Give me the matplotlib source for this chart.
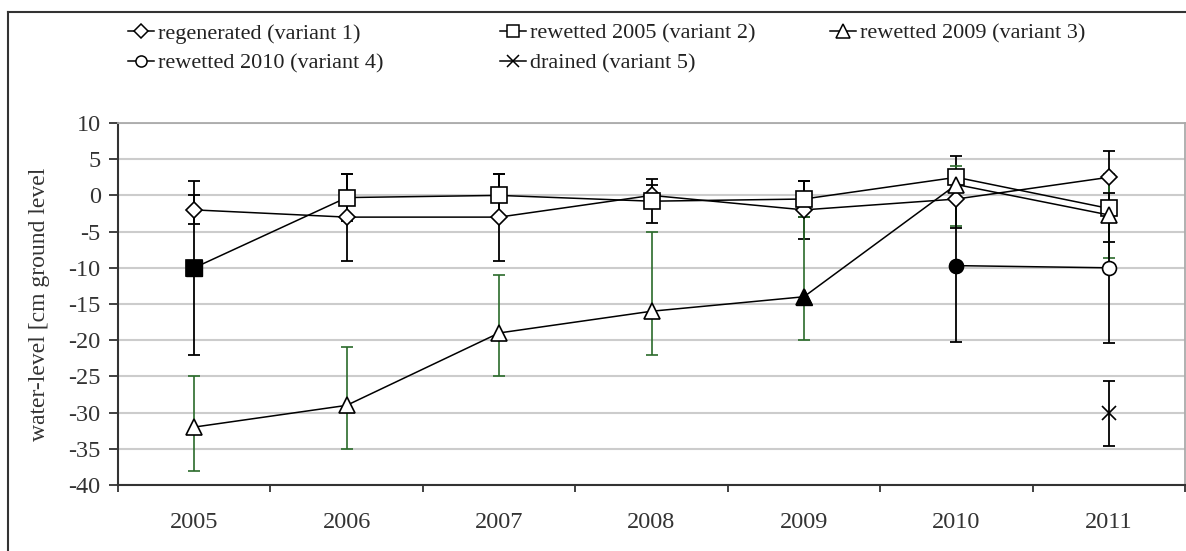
import numpy as np
import matplotlib.pyplot as plt
from matplotlib.lines import Line2D

plt.rcParams['font.family'] = ['Liberation Serif', 'DejaVu Serif']
plt.rcParams['axes.unicode_minus'] = False

# --- data ---
years = ["2005", "2006", "2007", "2008", "2009", "2010", "2011"]

# variant 1: regenerated
regen = [-2, -3, -3, 0, -2, -0.5, 2.5]
regen_err = [2, 6, 6, 1.5, 4, 4, 3.7]

# variant 2: rewetted 2005
rw05 = [-10, -0.3, 0, -0.8, -0.5, 2.5, -1.8]
rw05_err = [12, 3.3, 3, 3, 2.5, 3, 4.6]

# variant 3: rewetted 2009 (bars not symmetric)
rw09 = [-32, -29, -19, -16, -14, 1.5, -2.7]
rw09_low = [-38, -35, -25, -22, -20, -4.2, -8.7]
rw09_high = [-25, -21, -11, -5, -3, 4, 3]

# variant 4: rewetted 2010
rw10_years = ["2010", "2011"]
rw10 = [-9.7, -10]
rw10_err = [10.6, 10.4]

# variant 5: drained
dr_years = ["2011"]
dr = [-30.1]
dr_err = [4.5]

# first point after rewetting is drawn filled
filled = {"rw05": 0, "rw09": 4, "rw10": 0}

W, H = 1186, 551
fig = plt.figure(figsize=(W / 100, H / 100), dpi=100)
ax = fig.add_axes([118 / W, 1 - 485 / H, (1185 - 118) / W, (485 - 123) / H])

pos = {y: i + 1 for i, y in enumerate(years)}
x_all = np.array([pos[y] for y in years])
x10 = np.array([pos[y] for y in rw10_years])
xdr = np.array([pos[y] for y in dr_years])

green = '#2b6b2b'
cap = 4.3
lw = 1.1

# error bars
ax.errorbar(x_all, regen, yerr=regen_err, fmt='none', ecolor='black', elinewidth=1.3, capsize=cap, capthick=1.3, zorder=2)
ax.errorbar(x_all, rw05, yerr=rw05_err, fmt='none', ecolor='black', elinewidth=1.3, capsize=cap, capthick=1.3, zorder=2)
r09 = np.array(rw09)
ax.errorbar(x_all, r09, yerr=[r09 - np.array(rw09_low), np.array(rw09_high) - r09], fmt='none',
            ecolor=green, elinewidth=1.2, capsize=cap, capthick=1.2, zorder=2)
ax.errorbar(x10, rw10, yerr=rw10_err, fmt='none', ecolor='black', elinewidth=1.3, capsize=cap, capthick=1.3, zorder=2)
ax.errorbar(xdr, dr, yerr=dr_err, fmt='none', ecolor='black', elinewidth=1.3, capsize=cap, capthick=1.3, zorder=2)

# lines and markers
ax.plot(x_all, regen, color='black', lw=lw, marker='D', ms=8, mfc='white', mec='black', mew=1.2, zorder=3)
ax.plot(x_all, rw05, color='black', lw=lw, marker='s', ms=11, mfc='white', mec='black', mew=1.2, zorder=3)
ax.plot(x_all, rw09, color='black', lw=lw, marker='^', ms=12, mfc='white', mec='black', mew=1.2, zorder=3)
ax.plot(x10, rw10, color='black', lw=lw, marker='o', ms=10, mfc='white', mec='black', mew=1.2, zorder=3)
ax.plot(xdr, dr, ls='none', marker='x', ms=10, mec='black', mew=1.2, zorder=3)

i = filled["rw05"]
ax.plot(x_all[i], rw05[i], ls='none', marker='s', ms=11, mfc='black', mec='black', zorder=4)
i = filled["rw09"]
ax.plot(x_all[i], rw09[i], ls='none', marker='^', ms=12, mfc='black', mec='black', zorder=4)
i = filled["rw10"]
ax.plot(x10[i], rw10[i], ls='none', marker='o', ms=10, mfc='black', mec='black', zorder=4)

# axes
ax.set_xlim(0.5, len(years) + 0.5)
ax.set_ylim(-40, 10)
ax.set_yticks(np.arange(-40, 11, 5))
ax.set_xticks(np.arange(0.5, len(years) + 1, 1))
ax.set_xticklabels([])
ax.set_xticks(x_all, minor=True)
ax.set_xticklabels(years, minor=True)
ax.tick_params(axis='x', which='major', direction='out', length=5, width=1.3, color='#333333')
ax.tick_params(axis='x', which='minor', length=0, pad=19.5, labelsize=17.5, labelcolor='#333333')
ax.tick_params(axis='y', direction='out', length=6.5, width=1.3, color='#333333', pad=6,
               labelsize=17.5, labelcolor='#333333')

ax.yaxis.grid(True, color='#cccccc', lw=1.5)
ax.set_axisbelow(True)
for s in ['left', 'bottom']:
    ax.spines[s].set_color('#333333')
    ax.spines[s].set_linewidth(1.5)
for s in ['top', 'right']:
    ax.spines[s].set_color('#aaaaaa')
    ax.spines[s].set_linewidth(1.3)

ax.set_ylabel("water-level [cm ground level", fontsize=17, color='#333333', labelpad=13)

# legend: three columns placed by hand
def handle(marker, ms):
    return Line2D([], [], color='black', lw=lw, marker=marker, ms=ms, mfc='white', mec='black', mew=1.1)

legend_cols = [
    (128, [(handle('D', 7), "regenerated (variant 1)"), (handle('o', 8), "rewetted 2010 (variant 4)")]),
    (500, [(handle('s', 9), "rewetted 2005 (variant 2)"), (handle('x', 8), "drained (variant 5)")]),
    (830, [(handle('^', 10), "rewetted 2009 (variant 3)")]),
]
for xpx, entries in legend_cols:
    hs = [e[0] for e in entries]
    ls = [e[1] for e in entries]
    fig.legend(hs, ls, loc='upper left', bbox_to_anchor=(xpx / W, 1 - 23 / H), frameon=False,
               fontsize=16, handlelength=1.15, handletextpad=0.2, borderpad=0,
               borderaxespad=0, labelspacing=0.42, labelcolor='#222222')

# outer frame of the figure (cut at the right and bottom)
fy = 1 - 12 / H
fx = 8 / W
fig.add_artist(Line2D([fx, fx], [fy, 0], transform=fig.transFigure, color='#333333', lw=1.5))
fig.add_artist(Line2D([fx, 1], [fy, fy], transform=fig.transFigure, color='#333333', lw=1.5))

fig.savefig("out.png", dpi=100)
